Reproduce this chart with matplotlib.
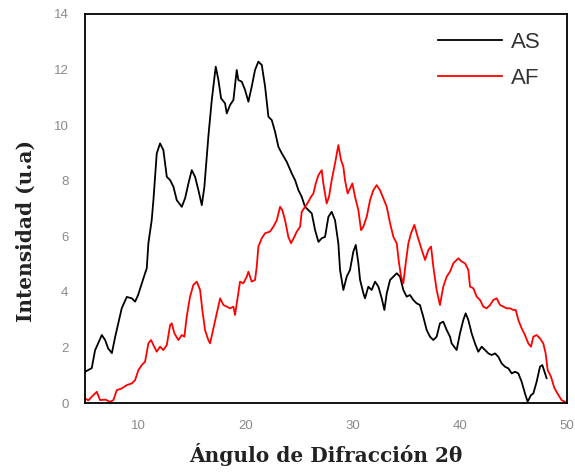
import matplotlib
matplotlib.use("Agg")
import matplotlib.pyplot as plt

# AS series (black)
as_x = [5.0, 5.62, 5.93, 6.56, 6.87, 7.15, 7.5, 7.8, 8.1, 8.42, 8.89, 9.36, 9.67, 9.95,
        10.29, 10.6, 10.76, 10.91, 11.22, 11.38, 11.54, 11.69, 12.0, 12.31, 12.63, 12.94,
        13.25, 13.56, 14.03, 14.34, 14.65, 14.96, 15.27, 15.58, 15.9, 16.14, 16.36, 16.51,
        16.83, 17.2, 17.45, 17.7, 18.07, 18.23, 18.54, 18.85, 19.16, 19.31, 19.63, 19.94,
        20.25, 20.56, 20.87, 21.18, 21.5, 21.81, 22.12, 22.43, 22.74, 23.05, 23.37, 23.83,
        24.3, 24.61, 24.92, 25.23, 25.54, 25.85, 26.17, 26.48, 26.79, 27.1, 27.41, 27.72,
        28.03, 28.34, 28.65, 28.81, 29.12, 29.43, 29.74, 30.05, 30.28, 30.52, 30.68, 30.99,
        31.14, 31.45, 31.76, 32.08, 32.39, 32.7, 32.95, 33.17, 33.48, 33.79, 34.1, 34.41,
        34.72, 35.03, 35.34, 35.65, 35.96, 36.27, 36.58, 36.9, 37.21, 37.52, 37.83, 38.14,
        38.45, 38.77, 39.08, 39.23, 39.7, 40.01, 40.32, 40.54, 40.79, 41.1, 41.41, 41.72,
        42.04, 42.35, 42.66, 42.97, 43.28, 43.59, 43.9, 44.22, 44.53, 44.84, 45.15, 45.46,
        45.77, 46.08, 46.33, 46.64, 46.86, 47.17, 47.48, 47.7, 47.95, 48.1]
as_y = [1.13, 1.26, 1.9, 2.45, 2.27, 1.97, 1.8, 2.37, 2.87, 3.41, 3.82, 3.77, 3.65, 3.89,
        4.3, 4.67, 4.85, 5.75, 6.58, 7.3, 8.14, 8.98, 9.34, 9.1, 8.14, 8.02,
        7.78, 7.3, 7.06, 7.37, 7.9, 8.38, 8.14, 7.66, 7.12, 7.78, 8.86, 9.58,
        10.9, 12.1, 11.62, 10.96, 10.78, 10.42, 10.72, 10.9, 11.98, 11.62, 11.56, 11.26,
        10.84, 11.38, 11.98, 12.28, 12.16, 11.38, 10.3, 10.18, 9.76, 9.22, 8.98, 8.68,
        8.26, 8.02, 7.66, 7.42, 7.06, 6.94, 6.82, 6.22, 5.8, 5.93, 5.98, 6.7,
        6.88, 6.58, 5.75, 4.79, 4.07, 4.55, 4.79, 5.45, 5.69, 5.03, 4.43, 3.95,
        3.77, 4.19, 4.07, 4.37, 4.19, 3.77, 3.35, 3.95, 4.43, 4.55, 4.67, 4.55,
        4.07, 3.83, 3.89, 3.71, 3.59, 3.53, 3.11, 2.63, 2.39, 2.27, 2.39, 2.87,
        2.93, 2.63, 2.39, 2.15, 1.91, 2.51, 2.99, 3.23, 2.99, 2.51, 2.15, 1.85,
        2.03, 1.91, 1.79, 1.73, 1.79, 1.67, 1.43, 1.31, 1.25, 1.07, 1.13, 1.07,
        0.77, 0.35, 0.05, 0.29, 0.35, 0.77, 1.31, 1.37, 1.07, 0.9]

# AF series (red)
af_x = [5.0, 5.3, 5.62, 6.09, 6.4, 6.87, 7.33, 7.64, 7.96, 8.42, 8.89, 9.36, 9.67, 9.98,
        10.29, 10.6, 10.91, 11.16, 11.38, 11.69, 12.0, 12.31, 12.63, 12.94, 13.09, 13.34,
        13.71, 14.03, 14.27, 14.49, 14.8, 15.11, 15.43, 15.74, 15.95, 16.2, 16.51, 16.67,
        16.98, 17.3, 17.61, 17.92, 18.23, 18.54, 18.85, 19.0, 19.26, 19.47, 19.78, 20.1,
        20.25, 20.56, 20.87, 21.03, 21.18, 21.5, 21.81, 22.27, 22.59, 22.9, 23.21, 23.42,
        23.67, 23.98, 24.23, 24.54, 24.77, 25.08, 25.23, 25.54, 25.85, 26.1, 26.32, 26.54,
        26.79, 27.1, 27.25, 27.56, 27.78, 28.03, 28.34, 28.65, 28.9, 29.12, 29.27, 29.52,
        29.74, 29.96, 30.21, 30.52, 30.77, 30.99, 31.3, 31.61, 31.92, 32.23, 32.54, 32.85,
        33.17, 33.48, 33.79, 34.1, 34.32, 34.51, 34.72, 34.94, 35.19, 35.44, 35.75, 36.06,
        36.44, 36.75, 37.06, 37.31, 37.52, 37.83, 38.14, 38.45, 38.77, 39.08, 39.39, 39.86,
        40.17, 40.48, 40.79, 40.95, 41.26, 41.57, 41.88, 42.19, 42.5, 42.82, 43.13, 43.44,
        43.75, 44.06, 44.38, 44.69, 45.0, 45.22, 45.46, 45.77, 46.08, 46.39, 46.64, 46.86,
        47.17, 47.48, 47.79, 48.01, 48.2, 48.51, 48.82, 49.19, 49.5, 49.8]
af_y = [0.17, 0.1, 0.23, 0.41, 0.11, 0.13, 0.05, 0.11, 0.47, 0.53, 0.65, 0.71, 0.83, 1.19,
        1.37, 1.49, 2.15, 2.27, 2.09, 1.85, 2.03, 1.91, 2.09, 2.81, 2.87, 2.51,
        2.27, 2.45, 2.39, 3.11, 3.83, 4.25, 4.37, 4.07, 3.35, 2.63, 2.27, 2.15,
        2.69, 3.23, 3.77, 3.53, 3.47, 3.41, 3.47, 3.17, 3.83, 4.37, 4.31, 4.55,
        4.73, 4.37, 4.43, 4.91, 5.63, 5.93, 6.11, 6.17, 6.35, 6.58, 7.06, 6.94,
        6.58, 5.98, 5.75, 5.98, 6.17, 6.35, 6.88, 7.06, 7.24, 7.42, 7.54, 7.9,
        8.2, 8.38, 7.9, 7.18, 7.42, 8.02, 8.62, 9.28, 8.74, 8.5, 8.02, 7.54,
        7.72, 7.9, 7.42, 6.94, 6.22, 6.35, 6.7, 7.3, 7.66, 7.84, 7.66, 7.37,
        7.06, 6.47, 5.98, 5.75, 5.03, 4.55, 4.31, 5.03, 5.75, 6.11, 6.41, 5.98,
        5.51, 5.15, 5.51, 5.63, 4.91, 4.07, 3.53, 4.19, 4.55, 4.73, 5.03, 5.21,
        5.09, 5.03, 4.79, 4.19, 4.13, 3.83, 3.71, 3.47, 3.41, 3.53, 3.71, 3.77,
        3.53, 3.47, 3.41, 3.41, 3.35, 3.35, 2.99, 2.69, 2.45, 2.15, 2.03, 2.39,
        2.45, 2.33, 2.15, 1.79, 1.19, 0.95, 0.55, 0.30, 0.11, 0.05]

x_ticks = [10, 20, 30, 40, 50]
y_ticks = [0, 2, 4, 6, 8, 10, 12, 14]

fig = plt.figure(figsize=(5.75, 4.76), dpi=100)
ax = fig.add_axes([0.148, 0.153, 0.838, 0.818])

ax.plot(as_x, as_y, color="black", lw=1.3, label="AS")
ax.plot(af_x, af_y, color="#ff0000", lw=1.3, label="AF")

ax.set_xlim(5, 50)
ax.set_ylim(0, 14)
ax.set_xticks(x_ticks)
ax.set_yticks(y_ticks)
ax.tick_params(axis="both", length=0, pad=12, labelsize=9.5, labelcolor="#8a8a8a")
for lab in ax.get_xticklabels() + ax.get_yticklabels():
    lab.set_family("Liberation Sans")

for s in ax.spines.values():
    s.set_linewidth(1.3)
    s.set_color("black")

ax.set_xlabel("Ángulo de Difracción 2θ", family="DejaVu Serif", fontweight="bold",
              fontsize=14.5, color="#222222", labelpad=8)
ax.set_ylabel("Intensidad (u.a)", family="DejaVu Serif", fontweight="bold",
              fontsize=14.5, color="#222222")
ax.yaxis.set_label_coords(-0.103, 0.442)

leg = ax.legend(loc="upper right", bbox_to_anchor=(0.963, 0.977), frameon=False,
                handlelength=2.88, prop={"family": "Liberation Sans", "size": 16},
                borderaxespad=0.0, labelspacing=0.68, handletextpad=0.36)
for t in leg.get_texts():
    t.set_color("#333333")

fig.savefig("out.png", dpi=100)
